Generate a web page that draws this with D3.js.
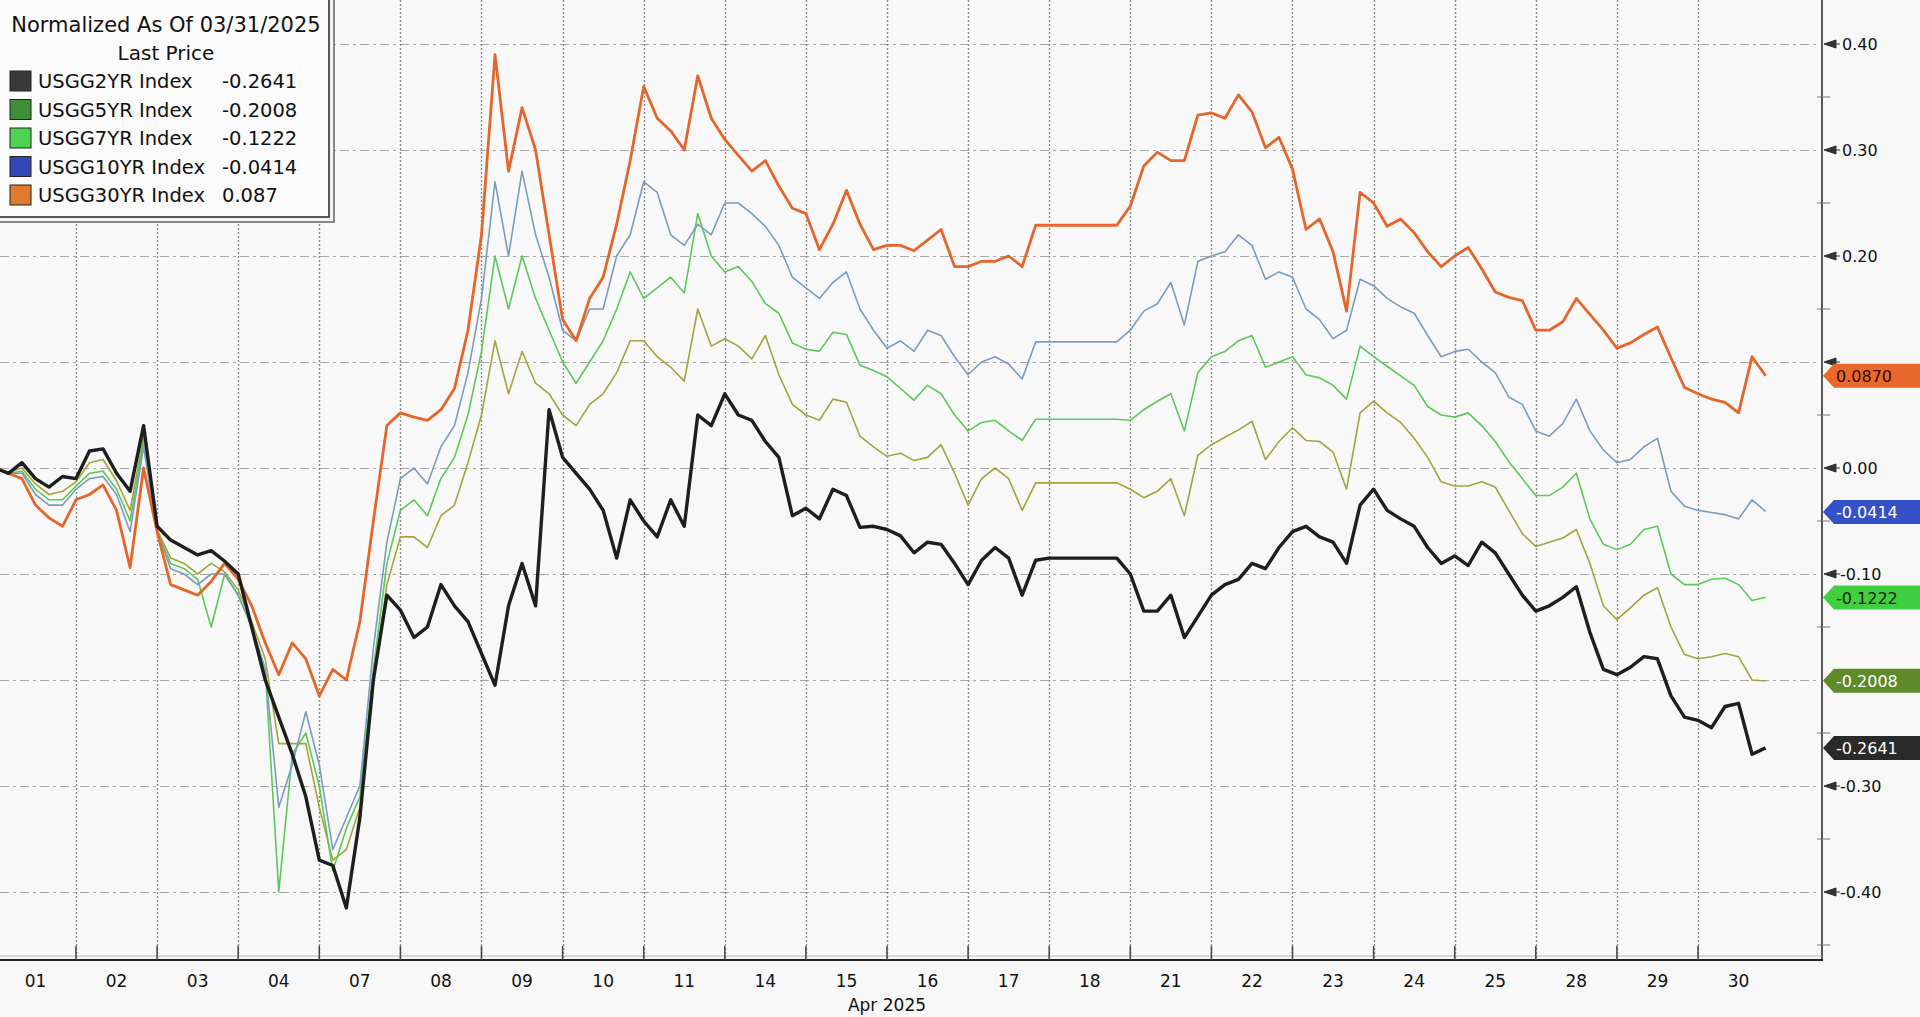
<!DOCTYPE html>
<html><head><meta charset="utf-8">
<script src="https://cdn.jsdelivr.net/npm/d3@7"></script>
<style>
html,body{margin:0;padding:0;background:#f8f8f8;overflow:hidden;}
svg{display:block;}
text{font-family:"DejaVu Sans","Liberation Sans",Arial,sans-serif;}
</style></head><body>
<svg id="chart" width="1920" height="1017"></svg>
<script>
// ---------- DATA ----------
const dayLabels = ["01","02","03","04","07","08","09","10","11","14","15","16","17","18","21","22","23","24","25","28","29","30"];
const monthLabel = "Apr 2025";
const samplesPerDay = 6; // intraday samples per trading day
const yTickValues = [0.40,0.30,0.20,0.10,0.00,-0.10,-0.20,-0.30,-0.40];
const yTickLabels = ["0.40","0.30","0.20","0.10","0.00","-0.10","-0.20","-0.30","-0.40"];
const legendTitle = "Normalized As Of 03/31/2025";
const legendSubtitle = "Last Price";
const seriesNames = ["USGG2YR Index","USGG5YR Index","USGG7YR Index","USGG10YR Index","USGG30YR Index"];
const legendValues = ["-0.2641","-0.2008","-0.1222","-0.0414","0.087"];
const lastValues = [-0.2641,-0.2008,-0.1222,-0.0414,0.0870];
const lastLabels = ["-0.2641","-0.2008","-0.1222","-0.0414","0.0870"];

const usgg2yr = [
 0.000,-0.005,0.005,-0.010,-0.018,-0.008,
 -0.010,0.016,0.018,-0.005,-0.022,0.040,
 -0.055,-0.068,-0.075,-0.082,-0.078,-0.088,
 -0.100,-0.150,-0.200,-0.235,-0.270,-0.310,
 -0.370,-0.375,-0.415,-0.330,-0.200,-0.120,
 -0.134,-0.160,-0.150,-0.110,-0.130,-0.145,
 -0.175,-0.205,-0.130,-0.090,-0.130,0.055,
 0.010,-0.005,-0.020,-0.040,-0.085,-0.030,
 -0.050,-0.065,-0.030,-0.055,0.050,0.040,
 0.070,0.050,0.045,0.025,0.010,-0.045,
 -0.038,-0.048,-0.020,-0.026,-0.056,-0.055,
 -0.058,-0.064,-0.080,-0.070,-0.072,-0.090,
 -0.110,-0.087,-0.075,-0.085,-0.120,-0.087,
 -0.085,-0.085,-0.085,-0.085,-0.085,-0.085,
 -0.100,-0.135,-0.135,-0.120,-0.160,-0.140,
 -0.120,-0.110,-0.105,-0.090,-0.095,-0.075,
 -0.060,-0.055,-0.065,-0.070,-0.090,-0.035,
 -0.020,-0.040,-0.048,-0.055,-0.075,-0.090,
 -0.083,-0.092,-0.070,-0.080,-0.100,-0.120,
 -0.135,-0.130,-0.122,-0.112,-0.155,-0.190,
 -0.195,-0.188,-0.178,-0.180,-0.215,-0.235,
 -0.238,-0.245,-0.225,-0.222,-0.270,-0.264
];
const usgg5yr = [
 0.000,-0.004,0.000,-0.015,-0.025,-0.022,
 -0.013,0.005,0.008,-0.012,-0.040,0.030,
 -0.058,-0.085,-0.090,-0.100,-0.090,-0.098,
 -0.115,-0.145,-0.180,-0.260,-0.260,-0.260,
 -0.320,-0.370,-0.360,-0.320,-0.200,-0.110,
 -0.065,-0.065,-0.075,-0.045,-0.035,0.005,
 0.050,0.120,0.070,0.110,0.080,0.070,
 0.050,0.040,0.060,0.070,0.090,0.120,
 0.120,0.105,0.095,0.082,0.150,0.115,
 0.122,0.115,0.103,0.125,0.088,0.060,
 0.050,0.045,0.065,0.062,0.030,0.020,
 0.011,0.014,0.007,0.010,0.022,-0.005,
 -0.035,-0.010,0.000,-0.010,-0.040,-0.014,
 -0.014,-0.014,-0.014,-0.014,-0.014,-0.014,
 -0.020,-0.028,-0.022,-0.010,-0.045,0.012,
 0.022,0.029,0.036,0.044,0.008,0.025,
 0.038,0.026,0.025,0.015,-0.020,0.052,
 0.063,0.052,0.043,0.028,0.010,-0.013,
 -0.017,-0.017,-0.013,-0.018,-0.040,-0.062,
 -0.074,-0.070,-0.066,-0.058,-0.090,-0.130,
 -0.143,-0.132,-0.120,-0.113,-0.150,-0.176,
 -0.180,-0.178,-0.175,-0.178,-0.200,-0.201
];
const usgg7yr = [
 0.000,-0.005,-0.003,-0.020,-0.030,-0.030,
 -0.017,-0.005,-0.003,-0.020,-0.050,0.025,
 -0.060,-0.090,-0.095,-0.105,-0.150,-0.100,
 -0.120,-0.150,-0.190,-0.400,-0.270,-0.250,
 -0.300,-0.380,-0.340,-0.310,-0.190,-0.090,
 -0.040,-0.030,-0.045,-0.010,0.010,0.050,
 0.110,0.200,0.150,0.200,0.160,0.130,
 0.100,0.080,0.100,0.120,0.150,0.185,
 0.160,0.170,0.180,0.165,0.240,0.200,
 0.185,0.190,0.176,0.155,0.146,0.118,
 0.112,0.110,0.128,0.126,0.097,0.092,
 0.086,0.075,0.064,0.078,0.070,0.050,
 0.035,0.043,0.045,0.035,0.026,0.046,
 0.046,0.046,0.046,0.046,0.046,0.046,
 0.045,0.055,0.063,0.070,0.035,0.090,
 0.105,0.110,0.120,0.125,0.095,0.100,
 0.105,0.088,0.085,0.078,0.065,0.115,
 0.105,0.096,0.087,0.078,0.058,0.050,
 0.048,0.052,0.040,0.025,0.006,-0.010,
 -0.026,-0.026,-0.018,-0.005,-0.048,-0.072,
 -0.077,-0.072,-0.058,-0.055,-0.100,-0.110,
 -0.110,-0.105,-0.104,-0.110,-0.125,-0.122
];
const usgg10yr = [
 0.000,-0.005,-0.005,-0.025,-0.035,-0.035,
 -0.020,-0.010,-0.008,-0.025,-0.060,0.020,
 -0.060,-0.095,-0.100,-0.110,-0.100,-0.100,
 -0.120,-0.150,-0.190,-0.320,-0.280,-0.230,
 -0.280,-0.360,-0.330,-0.300,-0.170,-0.070,
 -0.010,0.000,-0.015,0.020,0.040,0.090,
 0.160,0.270,0.200,0.280,0.220,0.180,
 0.130,0.120,0.150,0.150,0.200,0.220,
 0.270,0.260,0.220,0.210,0.230,0.220,
 0.250,0.250,0.240,0.228,0.210,0.180,
 0.170,0.160,0.175,0.185,0.150,0.130,
 0.113,0.120,0.110,0.130,0.125,0.105,
 0.088,0.100,0.105,0.098,0.084,0.119,
 0.119,0.119,0.119,0.119,0.119,0.119,
 0.130,0.148,0.155,0.175,0.135,0.195,
 0.200,0.204,0.220,0.210,0.178,0.185,
 0.180,0.150,0.140,0.122,0.130,0.178,
 0.172,0.160,0.152,0.146,0.125,0.105,
 0.110,0.112,0.100,0.090,0.067,0.060,
 0.035,0.030,0.042,0.065,0.035,0.017,
 0.005,0.008,0.020,0.028,-0.022,-0.036,
 -0.040,-0.042,-0.044,-0.048,-0.030,-0.041
];
const usgg30yr = [
 0.000,-0.005,-0.010,-0.035,-0.047,-0.055,
 -0.030,-0.025,-0.016,-0.040,-0.094,0.000,
 -0.060,-0.110,-0.115,-0.120,-0.107,-0.090,
 -0.105,-0.130,-0.165,-0.195,-0.165,-0.180,
 -0.215,-0.190,-0.200,-0.145,-0.050,0.040,
 0.052,0.048,0.045,0.055,0.075,0.130,
 0.220,0.390,0.280,0.340,0.300,0.220,
 0.140,0.120,0.160,0.180,0.230,0.290,
 0.360,0.330,0.318,0.300,0.370,0.330,
 0.310,0.295,0.280,0.290,0.266,0.245,
 0.240,0.206,0.230,0.262,0.230,0.206,
 0.210,0.210,0.205,0.215,0.225,0.190,
 0.190,0.195,0.195,0.200,0.190,0.229,
 0.229,0.229,0.229,0.229,0.229,0.229,
 0.247,0.285,0.298,0.290,0.290,0.333,
 0.335,0.330,0.352,0.336,0.302,0.312,
 0.282,0.225,0.235,0.204,0.148,0.260,
 0.250,0.228,0.235,0.222,0.204,0.190,
 0.200,0.208,0.188,0.166,0.161,0.158,
 0.130,0.130,0.138,0.160,0.145,0.130,
 0.113,0.118,0.126,0.133,0.104,0.076,
 0.070,0.065,0.062,0.052,0.105,0.087
];

const seriesData = [usgg2yr, usgg5yr, usgg7yr, usgg10yr, usgg30yr];
const lineColors = ["#1e1e1e","#a3a53c","#5cc85a","#7b9cbc","#e4662a"];
const lineWidths = [3.4, 1.6, 1.6, 1.6, 2.8];
const swatchColors = ["#3a3a3a","#3f8f3a","#4fd24f","#3447b8","#e27a2e"];
const boxColors = ["#2a2a2a","#5f8a2a","#3fcf3f","#3550c8","#e8692a"];
const boxText = ["#ffffff","#ffffff","#102010","#ffffff","#3a0a00"];
const drawOrder = [1,2,3,4,0];

// ---------- LAYOUT ----------
const W = 1920, H = 1017;
const plotRight = 1822, plotBottom = 960;
const svg = d3.select("#chart");
svg.append("rect").attr("width",W).attr("height",H).attr("fill","#f8f8f8");

const x = d3.scaleLinear().domain([0, dayLabels.length]).range([-5.1, 1779.1]);
const y = d3.scaleLinear().domain([-0.4, 0.4]).range([892, 44]);

svg.append("defs").append("clipPath").attr("id","plotclip")
  .append("rect").attr("x",0).attr("y",0).attr("width",plotRight).attr("height",plotBottom);

// grid
const grid = svg.append("g");
grid.selectAll("line.h").data(yTickValues).join("line")
  .attr("x1",0).attr("x2",plotRight-2)
  .attr("y1",d=>Math.round(y(d))+0.5).attr("y2",d=>Math.round(y(d))+0.5)
  .attr("stroke","#a8a8a8").attr("stroke-width",1).attr("stroke-dasharray","9,4,3,4");
const boundaries = d3.range(1, dayLabels.length);
grid.selectAll("line.v").data(boundaries).join("line")
  .attr("x1",d=>Math.round(x(d))+0.5).attr("x2",d=>Math.round(x(d))+0.5)
  .attr("y1",0).attr("y2",plotBottom)
  .attr("stroke","#8c8c8c").attr("stroke-width",1.4).attr("stroke-dasharray","2,2");

// lines
const line = d3.line().x((d,i)=>x(i/samplesPerDay)).y(d=>y(d));
const lines = svg.append("g").attr("clip-path","url(#plotclip)");
drawOrder.forEach(k=>{
  lines.append("path").datum(seriesData[k])
    .attr("d",line).attr("fill","none")
    .attr("stroke",lineColors[k]).attr("stroke-width",lineWidths[k])
    .attr("stroke-linejoin","round");
});

// right axis
const ax = svg.append("g");
ax.append("line").attr("x1",plotRight).attr("x2",plotRight).attr("y1",0).attr("y2",plotBottom)
  .attr("stroke","#222").attr("stroke-width",1.5);
const minor = d3.range(-0.45, 0.46, 0.1);
ax.selectAll("line.mn").data(minor).join("line")
  .attr("x1",plotRight-5).attr("x2",plotRight+8)
  .attr("y1",d=>y(d)).attr("y2",d=>y(d)).attr("stroke","#777").attr("stroke-width",1);
ax.selectAll("path.tk").data(yTickValues).join("path")
  .attr("d",d=>{const yy=y(d);return `M${plotRight+2},${yy} L${plotRight+14},${yy-4} L${plotRight+14},${yy+4} Z M${plotRight+14},${yy} L${plotRight+18},${yy}`;})
  .attr("fill","#333").attr("stroke","#333").attr("stroke-width",1);
// tick labels that are not covered by a last-value box
const visibleTicks = yTickValues.map((v,i)=>({v,label:yTickLabels[i]}))
  .filter(t=>lastValues.every(lv=>Math.abs(y(lv)-y(t.v))>20));
ax.selectAll("text.yl").data(visibleTicks).join("text")
  .attr("x",d=>d.v<0?plotRight+18:plotRight+20).attr("y",d=>y(d.v)+6)
  .attr("font-size",16).attr("fill","#111")
  .text(d=>d.label);

// last value boxes
const lb = svg.append("g");
[4,3,2,1,0].forEach(k=>{
  const yy = y(lastValues[k]);
  lb.append("path")
    .attr("d",`M${plotRight+1},${yy} L${plotRight+12},${yy-12} L${W},${yy-12} L${W},${yy+12} L${plotRight+12},${yy+12} Z`)
    .attr("fill",boxColors[k]);
  lb.append("text").attr("x",plotRight+14).attr("y",yy+6)
    .attr("font-size",16).attr("fill",boxText[k]).text(lastLabels[k]);
});

// bottom axis
const bx = svg.append("g");
bx.append("line").attr("x1",0).attr("x2",plotRight).attr("y1",plotBottom-4).attr("y2",plotBottom-4)
  .attr("stroke","#bbb").attr("stroke-width",1);
bx.append("line").attr("x1",0).attr("x2",plotRight+1).attr("y1",plotBottom).attr("y2",plotBottom)
  .attr("stroke","#222").attr("stroke-width",2);
bx.selectAll("line.t").data(boundaries).join("line")
  .attr("x1",d=>x(d)).attr("x2",d=>x(d)).attr("y1",plotBottom-14).attr("y2",plotBottom)
  .attr("stroke","#444").attr("stroke-width",1.5);
bx.selectAll("text.d").data(dayLabels).join("text")
  .attr("x",(d,i)=>x(i+0.5)).attr("y",plotBottom+27)
  .attr("text-anchor","middle").attr("font-size",17).attr("fill","#111").text(d=>d);
bx.append("text").attr("x",x(11)).attr("y",plotBottom+51)
  .attr("text-anchor","middle").attr("font-size",17).attr("fill","#111").text(monthLabel);

// legend
const lg = svg.append("g");
lg.append("rect").attr("x",-5).attr("y",-5).attr("width",339).attr("height",227)
  .attr("fill","#f3f3f3").attr("stroke","#666").attr("stroke-width",1.5);
lg.append("rect").attr("x",-5).attr("y",-5).attr("width",334).attr("height",222)
  .attr("fill","#fbfbfb").attr("stroke","#222").attr("stroke-width",1.5);
lg.append("text").attr("x",166).attr("y",32).attr("text-anchor","middle")
  .attr("font-size",21).attr("fill","#111").text(legendTitle);
lg.append("text").attr("x",166).attr("y",60).attr("text-anchor","middle")
  .attr("font-size",20).attr("fill","#111").text(legendSubtitle);
seriesNames.forEach((n,i)=>{
  const yy = 87 + i*28.5;
  lg.append("rect").attr("x",10).attr("y",yy-16).attr("width",21).attr("height",20)
    .attr("fill",swatchColors[i]).attr("stroke","#222").attr("stroke-width",1);
  lg.append("text").attr("x",38).attr("y",yy+1).attr("font-size",19.5).attr("fill","#111").text(n);
  lg.append("text").attr("x",222).attr("y",yy+1).attr("font-size",19.5).attr("fill","#111").text(legendValues[i]);
});
</script>
</body></html>
